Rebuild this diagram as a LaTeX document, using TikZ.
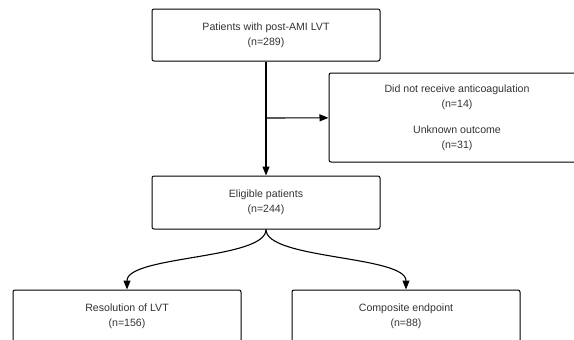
\documentclass[tikz,border=0pt]{standalone}
\usepackage{fontspec}
\setmainfont{Liberation Sans}
\usetikzlibrary{arrows.meta, positioning}

\begin{document}
\begin{tikzpicture}[
			x=1pt, y=-1pt,
			box/.style={rectangle, draw, rounded corners=2pt, line width=1pt, align=center,
				text=black!80, font=\fontsize{10.6}{15}\selectfont, minimum width=228pt, minimum height=52pt},
			flow/.style={-{Triangle[length=9pt, width=7pt]}, line width=1.1pt}
			]
			\useasboundingbox (0,0) rectangle (574,340);
			\clip (0,0) rectangle (574,340);
			\node[box] (total) at (266,35) {Patients with post-AMI LVT\\(n=289)};
			\node[box, minimum width=256pt, minimum height=89pt] (excl) at (457,117.5)
				{Did not receive anticoagulation\\(n=14)\\[11pt]Unknown outcome\\(n=31)};
			\node[box, minimum height=53pt] (elig) at (266,202.5) {Eligible patients\\(n=244)};
			\node[box] (lvt) at (127,316) {Resolution of LVT\\(n=156)};
			\node[box] (comp) at (406,316) {Composite endpoint\\(n=88)};
			\coordinate (split) at (266,118);
			\draw[flow] (total) -- (elig);
			\draw[flow] (split) -- (excl);
			\draw[flow] (elig.south) .. controls +(0,30) and +(0,-34) .. (lvt.north);
			\draw[flow] (elig.south) .. controls +(0,30) and +(0,-34) .. (comp.north);
		\end{tikzpicture}
\end{document}
